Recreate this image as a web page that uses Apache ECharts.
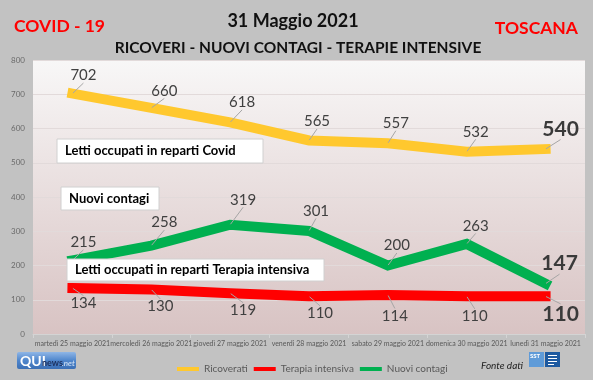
<!DOCTYPE html>
<html>
<head>
<meta charset="utf-8">
<script src="https://cdn.jsdelivr.net/npm/echarts@6/dist/echarts.min.js"></script>
<style>
html,body{margin:0;padding:0;background:#c2c2c2;}
#chart{width:593px;height:380px;}
</style>
</head>
<body>
<div id="chart"></div>
<script>
// ---- data ----
const categories = [
  'martedì 25 maggio 2021',
  'mercoledì 26 maggio 2021',
  'giovedì 27 maggio 2021',
  'venerdì 28 maggio 2021',
  'sabato 29 maggio 2021',
  'domenica 30 maggio 2021',
  'lunedì 31 maggio 2021'
];
const ricoverati = [702, 660, 618, 565, 557, 532, 540];
const terapiaIntensiva = [134, 130, 119, 110, 114, 110, 110];
const nuoviContagi = [215, 258, 319, 301, 200, 263, 147];
const seriesNames = ['Ricoverati', 'Terapia intensiva', 'Nuovi contagi'];
const yTicks = {min: 0, max: 800, interval: 100};

// ---- label placement (offset of label centre from its point, px) ----
const offRic = [[11,-18],[13,-17],[12,-20],[8,-19],[8,-20],[9,-20],[15,-20]];
const offTer = [[11,15],[9,17],[13,17],[11,17],[7,21],[8,20],[15,18]];
const offCon = [[11,-18],[13,-23],[13,-25],[7,-20],[9,-20],[9,-18],[14,-20]];
const offsets = [offRic, offTer, offCon];

const FONT = 'Lato, "Open Sans", sans-serif';
const chart = echarts.init(document.getElementById('chart'), null, {renderer: 'canvas'});

function build(values) {
  const last = values.length - 1;
  return values.map((v, i) => i === last
    ? {value: v, label: {fontSize: 21, fontWeight: 'bold', color: '#3a3a3a'}}
    : v);
}

function lineSeries(name, values, color, idx) {
  return {
    name: name,
    type: 'line',
    data: build(values),
    symbol: 'circle',
    symbolSize: 1,
    showSymbol: true,
    itemStyle: {color: color},
    lineStyle: {color: color, width: 10, cap: 'square', join: 'miter'},
    emphasis: {disabled: true},
    label: {
      show: true,
      position: 'inside',
      fontFamily: FONT,
      fontSize: 15,
      color: '#404040'
    },
    labelLine: {show: true, lineStyle: {color: '#a6a6a6', width: 1}},
    labelLayout: function (p) {
      const o = offsets[idx][p.dataIndex];
      return {dx: o[0], dy: o[1]};
    },
    z: 3
  };
}

function box(x, y, w, h, txt) {
  return {
    type: 'group',
    children: [
      {type: 'rect', z: 100, shape: {x: x, y: y, width: w, height: h},
       style: {fill: '#ffffff', stroke: '#d0d0d0', lineWidth: 1}},
      {type: 'text', z: 101, x: x + 8, y: y + h / 2,
       style: {text: txt, fill: '#000000', font: 'bold 13px ' + FONT, textVerticalAlign: 'middle', textAlign: 'left'}}
    ]
  };
}

const option = {
  backgroundColor: '#c2c2c2',
  animation: false,
  grid: {
    left: 33, right: 8, top: 60, bottom: 46,
    show: true, borderWidth: 0,
    backgroundColor: new echarts.graphic.LinearGradient(0, 0, 0, 1, [
      {offset: 0, color: '#f8f7f7'},
      {offset: 1, color: '#d8c3c3'}
    ])
  },
  xAxis: {
    type: 'category',
    data: categories,
    boundaryGap: true,
    axisLine: {lineStyle: {color: '#d4d4d4'}},
    axisTick: {show: true, length: 4, lineStyle: {color: '#d4d4d4'}},
    axisLabel: {interval: 0, fontFamily: FONT, fontSize: 7, color: '#595959', margin: 6}
  },
  yAxis: {
    type: 'value',
    min: yTicks.min, max: yTicks.max, interval: yTicks.interval,
    axisLine: {show: false},
    axisTick: {show: false},
    axisLabel: {fontFamily: FONT, fontSize: 8, color: '#6a6a6a', margin: 8},
    splitLine: {lineStyle: {color: '#e2dada', width: 1}}
  },
  legend: {
    data: seriesNames,
    left: 172, top: 359,
    icon: 'rect', itemWidth: 22, itemHeight: 4, itemGap: 6,
    textStyle: {fontFamily: FONT, fontSize: 10, color: '#595959'}
  },
  series: [
    lineSeries(seriesNames[0], ricoverati, '#FFC82E', 0),
    lineSeries(seriesNames[1], terapiaIntensiva, '#FF0000', 1),
    lineSeries(seriesNames[2], nuoviContagi, '#00B050', 2)
  ],
  graphic: [
    {type: 'text', x: 14, y: 26, z: 100,
     style: {text: 'COVID - 19', fill: '#FF0000', font: 'bold 17.5px ' + FONT, textVerticalAlign: 'middle'}},
    {type: 'text', x: 578, y: 28, z: 100,
     style: {text: 'TOSCANA', fill: '#FF0000', font: 'bold 17.5px ' + FONT, textVerticalAlign: 'middle', textAlign: 'right'}},
    {type: 'text', x: 293, y: 21, z: 100,
     style: {text: '31 Maggio 2021', fill: '#111111', font: 'bold 18px ' + FONT, textVerticalAlign: 'middle', textAlign: 'center'}},
    {type: 'text', x: 298, y: 48, z: 100,
     style: {text: 'RICOVERI - NUOVI CONTAGI - TERAPIE INTENSIVE', fill: '#111111', font: 'bold 15.5px ' + FONT, textVerticalAlign: 'middle', textAlign: 'center'}},
    box(57, 139, 206, 24, 'Letti occupati in reparti Covid'),
    box(61, 187, 98, 23, 'Nuovi contagi'),
    box(67, 259, 257, 22, 'Letti occupati in reparti Terapia intensiva'),
    // QUInews logo
    {type: 'group', children: [
      {type: 'rect', z: 100, shape: {x: 17, y: 352, width: 59, height: 17, r: 2},
       style: {fill: new echarts.graphic.LinearGradient(0, 0, 0, 1, [
         {offset: 0, color: '#8fb6e6'}, {offset: 0.5, color: '#4f86cc'}, {offset: 1, color: '#3b6fb5'}])}},
      {type: 'text', z: 101, x: 20, y: 361,
       style: {text: 'QUI', fill: '#ffffff', font: 'bold 14px ' + FONT, textVerticalAlign: 'middle'}},
      {type: 'text', z: 101, x: 42, y: 363,
       style: {text: 'news', fill: '#1c2f5c', font: 'bold 9px ' + FONT, textVerticalAlign: 'middle'}},
      {type: 'text', z: 101, x: 62, y: 363,
       style: {text: '.net', fill: '#dce9f8', font: 'italic 8px ' + FONT, textVerticalAlign: 'middle'}}
    ]},
    // Fonte dati + SST logo
    {type: 'text', x: 523, y: 366, z: 100,
     style: {text: 'Fonte dati', fill: '#222222', font: 'italic 10px ' + FONT, textVerticalAlign: 'middle', textAlign: 'right'}},
    {type: 'group', children: [
      {type: 'rect', z: 100, shape: {x: 529, y: 352, width: 15, height: 15}, style: {fill: '#5f9bd8'}},
      {type: 'text', z: 101, x: 530, y: 356, style: {text: 'SST', fill: '#ffffff', font: 'bold 6px ' + FONT, textVerticalAlign: 'middle'}},
      {type: 'rect', z: 100, shape: {x: 545, y: 352, width: 15, height: 15}, style: {fill: '#1e5aa0'}},
      {type: 'rect', z: 101, shape: {x: 548, y: 355, width: 9, height: 1}, style: {fill: '#ffffff'}},
      {type: 'rect', z: 101, shape: {x: 548, y: 358, width: 9, height: 1}, style: {fill: '#ffffff'}},
      {type: 'rect', z: 101, shape: {x: 548, y: 361, width: 9, height: 1}, style: {fill: '#ffffff'}},
      {type: 'rect', z: 101, shape: {x: 548, y: 364, width: 6, height: 1}, style: {fill: '#ffffff'}}
    ]}
  ]
};
chart.setOption(option);
</script>
</body>
</html>
